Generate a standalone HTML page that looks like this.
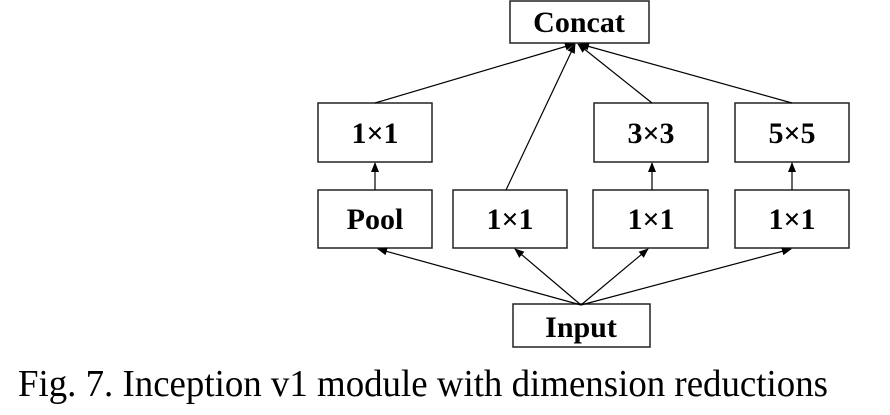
<!DOCTYPE html>
<html><head><meta charset="utf-8"><style>
html,body{margin:0;padding:0;background:#fff;}
svg{display:block}
</style></head><body>
<svg width="890" height="415" viewBox="0 0 890 415" xmlns="http://www.w3.org/2000/svg">
<defs><marker id="a" markerWidth="10" markerHeight="8" refX="9" refY="4" orient="auto" markerUnits="userSpaceOnUse"><path d="M0,0 L10,4 L0,8 z" fill="#000"/></marker></defs>
<g fill="#fff" stroke="#222" stroke-width="1.5">
<rect x="510" y="1" width="139" height="42"/>
<rect x="318" y="103" width="114" height="59"/>
<rect x="594" y="103" width="114" height="59"/>
<rect x="735" y="103" width="114" height="59"/>
<rect x="318" y="190" width="114" height="58"/>
<rect x="453" y="190" width="114" height="58"/>
<rect x="593" y="190" width="115" height="58"/>
<rect x="735" y="190" width="114" height="58"/>
<rect x="513" y="304" width="137" height="43"/>
</g>
<g stroke="#000" stroke-width="1.2" fill="none" marker-end="url(#a)">
<line x1="375" y1="103" x2="574" y2="44"/>
<line x1="506" y1="190" x2="575" y2="44"/>
<line x1="652" y1="103" x2="578" y2="44"/>
<line x1="792" y1="103" x2="580" y2="44"/>
<line x1="375" y1="190" x2="375" y2="163"/>
<line x1="652" y1="190" x2="652" y2="163"/>
<line x1="792" y1="190" x2="792" y2="163"/>
<line x1="581" y1="305" x2="378" y2="249"/>
<line x1="581" y1="305" x2="515" y2="249"/>
<line x1="581" y1="305" x2="648" y2="249"/>
<line x1="581" y1="305" x2="791" y2="249"/>
</g>
<g font-family="Liberation Serif, serif" font-weight="bold" font-size="30" text-anchor="middle">
<text x="579" y="32">Concat</text>
<text x="375" y="143">1×1</text>
<text x="651" y="143">3×3</text>
<text x="792" y="143">5×5</text>
<text x="375" y="229">Pool</text>
<text x="510" y="229">1×1</text>
<text x="651" y="229">1×1</text>
<text x="792" y="229">1×1</text>
<text x="581" y="337">Input</text>
</g>
<text x="18" y="396" font-family="Liberation Serif, serif" font-size="38" textLength="810" lengthAdjust="spacingAndGlyphs">Fig. 7.  Inception v1 module with dimension reductions</text>
</svg>
</body></html>
